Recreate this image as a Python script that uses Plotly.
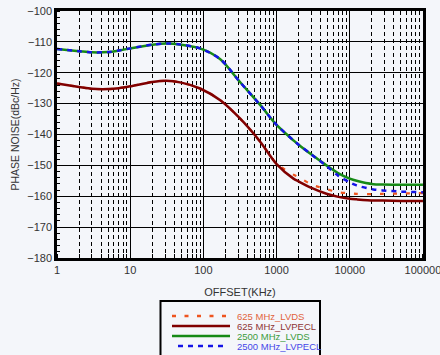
import plotly.graph_objects as go

offset_khz = [1, 2, 3, 5, 7, 10, 20, 31, 50, 90, 170, 316, 600, 1000, 1700, 2000,
              3000, 4800, 7000, 10000, 12400, 21000, 28000, 50000, 100000]

lvds_625 = [-123.5, -124.6, -125.2, -125.3, -125.0, -124.4, -123.0, -122.6, -123.2,
            -125.1, -128.9, -134.8, -142.4, -149.4, -153.0, -153.8, -156.2, -157.7,
            -158.7, -159.0, -159.2, -159.3, -159.2, -159.1, -159.0]
lvpecl_625 = [-123.5, -124.6, -125.2, -125.3, -125.0, -124.4, -123.0, -122.6, -123.2,
              -125.1, -128.9, -134.8, -142.4, -149.6, -154.3, -155.2, -157.3, -159.2,
              -160.2, -160.8, -161.0, -161.4, -161.4, -161.5, -161.5]
lvds_2500 = [-112.3, -113.0, -113.4, -113.3, -112.8, -112.1, -110.9, -110.5, -110.9,
             -112.1, -115.6, -123.0, -130.5, -136.9, -141.9, -143.3, -146.5, -150.0,
             -152.6, -154.3, -155.0, -156.1, -156.2, -156.3, -156.3]
lvpecl_2500 = [-112.3, -113.0, -113.4, -113.3, -112.8, -112.1, -110.9, -110.5, -110.9,
               -112.1, -115.6, -123.0, -130.5, -136.9, -141.9, -143.3, -146.5, -150.2,
               -153.4, -155.5, -156.5, -157.8, -158.1, -158.5, -158.7]

series_names = ["625 MHz_LVDS", "625 MHz_LVPECL", "2500 MHz_LVDS", "2500 MHz_LVPECL"]
x_tick_vals = [1, 10, 100, 1000, 10000, 100000]
x_tick_text = ["1", "10", "100", "1000", "10000", "100000"]
y_tick_vals = [-100, -110, -120, -130, -140, -150, -160, -170, -180]

colors = ["#ee5520", "#800000", "#168a16", "#1414e6"]
text_colors = ["#e2643c", "#8e3434", "#3c9c3c", "#4646e8"]
dashes = ["4px,9px", "solid", "solid", "5px,5px"]
legend_dashes = ["4px,8.5px", "solid", "solid", "5px,5px"]
widths = [2.2, 2.5, 2.5, 2.5]
values = [lvds_625, lvpecl_625, lvds_2500, lvpecl_2500]

W, H = 440, 355
ML, MR, MT, MB = 57, 17, 11, 97
PW, PH = W - ML - MR, H - MT - MB


def px(xp):
    return (xp - ML) / PW


def py(yp):
    return (H - MB - yp) / PH


bg = "#f4f6fa"
fig = go.Figure()
for name, vals, c, d, w in zip(series_names, values, colors, dashes, widths):
    fig.add_trace(go.Scatter(
        x=offset_khz, y=vals, mode="lines", name=name,
        line=dict(color=c, width=w, dash=d, shape="spline", smoothing=0.8),
    ))

# manual legend (compact rows as in the reference)
shapes = [dict(type="rect", xref="paper", yref="paper",
               x0=px(160.5), x1=px(320), y0=py(301), y1=py(365),
               line=dict(color="black", width=2), fillcolor=bg, layer="above")]
annotations = []
row_y = [316, 326, 336, 346]
key_x = [(172, 230), (172, 230), (172, 230), (178, 226)]
for i, name in enumerate(series_names):
    x0, x1 = key_x[i]
    shapes.append(dict(type="line", xref="paper", yref="paper",
                       x0=px(x0), x1=px(x1), y0=py(row_y[i]), y1=py(row_y[i]),
                       line=dict(color=colors[i], width=2.5, dash=legend_dashes[i]),
                       layer="above"))
    annotations.append(dict(xref="paper", yref="paper", x=px(235), y=py(row_y[i]),
                            xanchor="left", yanchor="middle", showarrow=False,
                            text=name, font=dict(size=9.5, color=text_colors[i])))

fig.update_layout(
    width=W, height=H,
    margin=dict(l=ML, r=MR, t=MT, b=MB, autoexpand=False),
    paper_bgcolor=bg, plot_bgcolor=bg,
    font=dict(family="Liberation Sans, Arial, sans-serif", size=11, color="#333333"),
    showlegend=False,
    shapes=shapes, annotations=annotations,
)
fig.update_xaxes(
    type="log", range=[-0.0005, 5.0005],
    tickvals=x_tick_vals, ticktext=x_tick_text,
    ticklabeloverflow="allow",
    showgrid=True, gridcolor="black", gridwidth=1.2,
    showline=True, linecolor="black", linewidth=2.5, mirror=True,
    ticks="", zeroline=False,
    tickfont=dict(size=11, color="#333333"),
    title=dict(text="OFFSET(KHz)", font=dict(size=11, color="#333333"), standoff=14),
    minor=dict(dtick="D1", showgrid=True, gridcolor="black", gridwidth=1,
               griddash="4px,3px", ticks="inside", ticklen=4, tickcolor="black"),
)
fig.update_yaxes(
    range=[-180, -100], tickvals=y_tick_vals,
    showgrid=True, gridcolor="black", gridwidth=1.2,
    showline=True, linecolor="black", linewidth=2.5, mirror=True,
    ticks="", zeroline=False,
    tickfont=dict(size=11, color="#333333"),
    title=dict(text="PHASE NOISE(dBc/Hz)", font=dict(size=10.5, color="#333333"), standoff=6),
    minor=dict(dtick=2, ticks="inside", ticklen=3, tickcolor="black", showgrid=False),
)

fig.write_html(
    "out.html",
    config={"displayModeBar": False},
    post_script=("document.body.style.margin='0';"
                 "document.body.style.overflow='hidden';"
                 "document.body.style.background='" + bg + "';"),
)
